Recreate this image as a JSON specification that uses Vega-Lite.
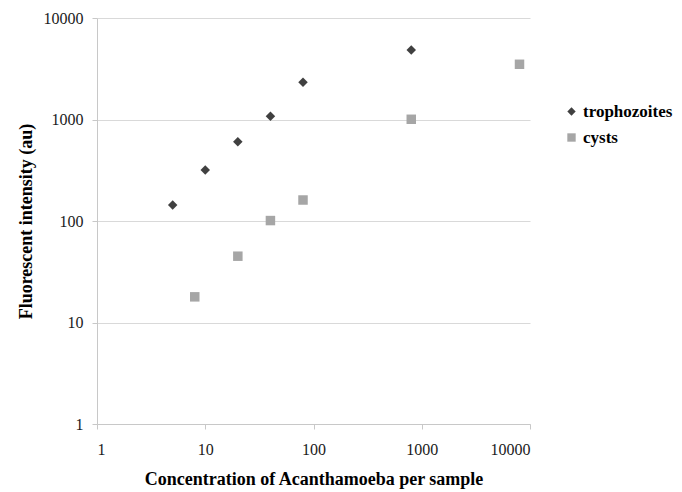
{
  "$schema": "https://vega.github.io/schema/vega-lite/v6.json",
  "autosize": "none",
  "width": 433,
  "height": 406,
  "padding": {"left": 97, "top": 18, "right": 152, "bottom": 68},
  "background": "white",
  "config": {
    "font": "Liberation Serif",
    "view": {"stroke": null}
  },
  "data": {
    "values": [
      {"conc": 5, "intensity": 144, "stage": "trophozoites"},
      {"conc": 10, "intensity": 318, "stage": "trophozoites"},
      {"conc": 20, "intensity": 604, "stage": "trophozoites"},
      {"conc": 40, "intensity": 1075, "stage": "trophozoites"},
      {"conc": 80, "intensity": 2325, "stage": "trophozoites"},
      {"conc": 800, "intensity": 4840, "stage": "trophozoites"},
      {"conc": 8, "intensity": 17.9, "stage": "cysts"},
      {"conc": 20, "intensity": 45, "stage": "cysts"},
      {"conc": 40, "intensity": 101, "stage": "cysts"},
      {"conc": 80, "intensity": 161, "stage": "cysts"},
      {"conc": 800, "intensity": 1005, "stage": "cysts"},
      {"conc": 8000, "intensity": 3500, "stage": "cysts"}
    ]
  },
  "mark": {"type": "point", "filled": true, "opacity": 1},
  "encoding": {
    "x": {
      "field": "conc",
      "type": "quantitative",
      "scale": {"type": "log", "domain": [1, 10000], "nice": false},
      "axis": {
        "values": [1, 10, 100, 1000, 10000],
        "format": "d",
        "grid": false,
        "domainColor": "#c8c8c8",
        "tickColor": "#c8c8c8",
        "tickSize": 5,
        "labelFontSize": 16,
        "labelColor": "#1a1a1a",
        "labelPadding": 12,
        "title": "Concentration of Acanthamoeba per sample",
        "titleFontSize": 18,
        "titleFontWeight": "bold",
        "titleColor": "#000000",
        "titlePadding": 13
      }
    },
    "y": {
      "field": "intensity",
      "type": "quantitative",
      "scale": {"type": "log", "domain": [1, 10000], "nice": false},
      "axis": {
        "values": [1, 10, 100, 1000, 10000],
        "format": "d",
        "grid": true,
        "gridColor": "#d9d9d9",
        "domainColor": "#c8c8c8",
        "tickColor": "#c8c8c8",
        "tickSize": 5,
        "labelFontSize": 16,
        "labelColor": "#1a1a1a",
        "labelPadding": 9,
        "title": "Fluorescent intensity (au)",
        "titleFontSize": 18,
        "titleFontWeight": "bold",
        "titleColor": "#000000",
        "titlePadding": 8
      }
    },
    "color": {
      "field": "stage",
      "type": "nominal",
      "scale": {"domain": ["trophozoites", "cysts"], "range": ["#404040", "#a6a6a6"]},
      "legend": {
        "title": null,
        "orient": "none",
        "legendX": 466,
        "legendY": 85,
        "labelFontSize": 17,
        "labelFontWeight": "bold",
        "labelColor": "#000000",
        "symbolSize": 70,
        "rowPadding": 8,
        "labelOffset": 3
      }
    },
    "shape": {
      "field": "stage",
      "type": "nominal",
      "scale": {"domain": ["trophozoites", "cysts"], "range": ["diamond", "square"]},
      "legend": null
    },
    "size": {"value": 90}
  }
}
